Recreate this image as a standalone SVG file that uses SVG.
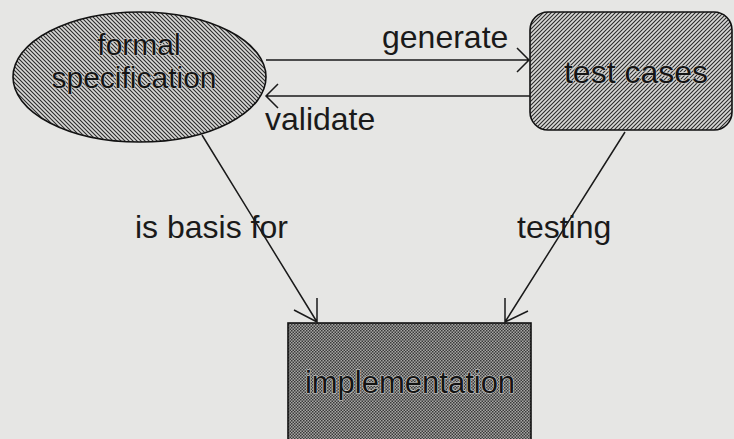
<svg xmlns="http://www.w3.org/2000/svg" width="734" height="439" viewBox="0 0 734 439">
  <defs>
    <!-- diagonal hatch, descending to the right -->
    <pattern id="hatchDown" width="4" height="4" patternUnits="userSpaceOnUse">
      <rect width="4" height="4" fill="#d8d8d6"/>
      <path d="M-1,-1 L5,5 M-1,3 L1,5 M3,-1 L5,1" stroke="#2a2a2a" stroke-width="1.1"/>
    </pattern>
    <!-- diagonal hatch, ascending to the right -->
    <pattern id="hatchUp" width="4" height="4" patternUnits="userSpaceOnUse">
      <rect width="4" height="4" fill="#d8d8d6"/>
      <path d="M-1,5 L5,-1 M-1,1 L1,-1 M3,5 L5,3" stroke="#2a2a2a" stroke-width="1.1"/>
    </pattern>
    <!-- dense checker dots -->
    <pattern id="checker" width="3" height="3" patternUnits="userSpaceOnUse">
      <rect width="3" height="3" fill="#a6a6a4"/>
      <rect x="0" y="0" width="1.5" height="1.5" fill="#3a3a3a"/>
      <rect x="1.5" y="1.5" width="1.5" height="1.5" fill="#3a3a3a"/>
    </pattern>
  </defs>
  <style>
    .lbl { font-family: "Liberation Sans", Arial, sans-serif; font-size: 32px; fill: #1a1a1a; }
    .node-text { font-family: "Liberation Sans", Arial, sans-serif; fill: #141414; text-anchor: middle;
                 stroke: #d0d0ce; stroke-width: 1.2; paint-order: stroke; }
    .edge { fill: none; stroke: #1a1a1a; stroke-width: 1.5; }
    .outline { stroke: #111; stroke-width: 1.6; }
  </style>

  <rect width="734" height="439" fill="#e6e6e4"/>

  <g id="formal-specification">
    <ellipse cx="139.5" cy="77" rx="126.5" ry="65" fill="url(#hatchDown)" class="outline"/>
    <text class="node-text" x="139" y="55" font-size="30">formal</text>
    <text class="node-text" x="134" y="88" font-size="30">specification</text>
  </g>

  <g id="test-cases">
    <rect x="530" y="12" width="202" height="118" rx="18" ry="18" fill="url(#hatchUp)" class="outline"/>
    <text class="node-text" x="636" y="83" font-size="32">test cases</text>
  </g>

  <g id="implementation">
    <rect x="288" y="323" width="243" height="130" fill="url(#checker)" class="outline"/>
    <text class="node-text" x="410" y="393" font-size="31">implementation</text>
  </g>

  <g id="connectors">
    <!-- generate -->
    <path class="edge" d="M266,60 L529,60 M517,48 L529,60 L517,72"/>
    <!-- validate -->
    <path class="edge" d="M530,96 L266,96 M278,84 L266,96 L278,108"/>
    <!-- is basis for -->
    <path class="edge" d="M202,135 L317,322 M317,298 L317,322 L294,310"/>
    <!-- testing -->
    <path class="edge" d="M625,132 L505,322 M505,298 L505,322 L528,311"/>

    <text class="lbl" x="382" y="48">generate</text>
    <text class="lbl" x="265" y="130">validate</text>
    <text class="lbl" x="135" y="238">is basis for</text>
    <text class="lbl" x="517" y="238">testing</text>
  </g>
</svg>
